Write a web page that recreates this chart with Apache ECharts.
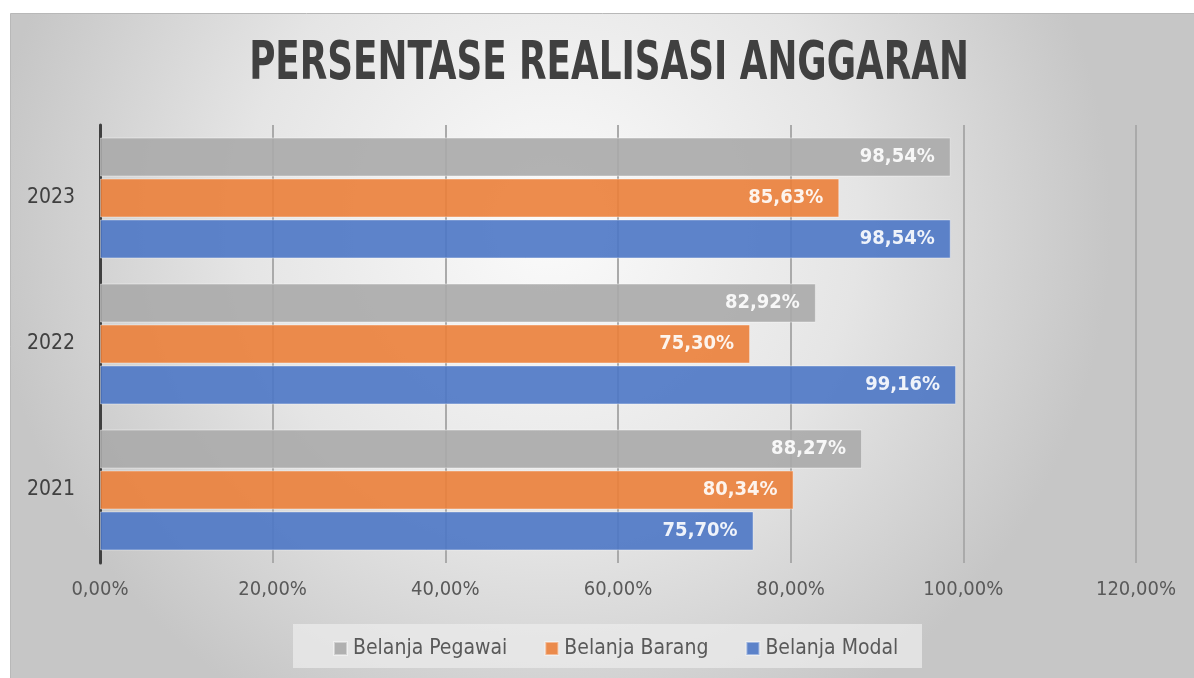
<!DOCTYPE html>
<html>
<head>
<meta charset="utf-8">
<script src="https://cdn.jsdelivr.net/npm/echarts@6/dist/echarts.min.js"></script>
<style>
  html, body { margin: 0; padding: 0; background: #ffffff; }
  #chart { width: 1194px; height: 678px; }
</style>
</head>
<body>
<div id="chart"></div>
<script>
// Budget realisation per year, in percent
const years = ['2021', '2022', '2023'];
const belanjaPegawai = [88.27, 82.92, 98.54];
const belanjaBarang = [80.34, 75.30, 85.63];
const belanjaModal = [75.70, 99.16, 98.54];
const seriesNames = ['Belanja Pegawai', 'Belanja Barang', 'Belanja Modal'];
const xTicks = [0, 20, 40, 60, 80, 100, 120];

const FONT = '"DejaVu Sans Condensed", "Liberation Sans", sans-serif';
const pct = v => v.toFixed(2).replace('.', ',') + '%';

const chart = echarts.init(document.getElementById('chart'), null, { renderer: 'canvas' });

function barSeries(name, data, color) {
  return {
    name: name,
    type: 'bar',
    data: data,
    barWidth: 39,
    barGap: '5%',
    itemStyle: { color: color, opacity: 0.9, borderColor: 'rgba(255,255,255,0.45)', borderWidth: 1 },
    label: {
      show: true,
      position: 'insideRight',
      distance: 16,
      color: '#ffffff',
      fontFamily: FONT,
      fontWeight: 'bold',
      fontSize: 20,
      formatter: p => pct(p.value)
    },
    emphasis: { disabled: true }
  };
}

chart.setOption({
  animation: false,
  graphic: [
    {
      type: 'rect',
      z: -10,
      silent: true,
      shape: { x: 10.5, y: 13.5, width: 1200, height: 700 },
      style: {
        fill: new echarts.graphic.RadialGradient(0.45, 0.3, 0.8, [
          { offset: 0, color: '#fbfbfb' },
          { offset: 0.55, color: '#e5e5e5' },
          { offset: 1, color: '#c6c6c6' }
        ]),
        stroke: '#b8b8b8',
        lineWidth: 1
      }
    },
    {
      type: 'rect',
      z: -5,
      silent: true,
      shape: { x: 293, y: 624, width: 629, height: 44 },
      style: { fill: 'rgba(235,235,235,0.75)' }
    },
    {
      type: 'text',
      x: 609,
      y: 39,
      scaleX: 0.75,
      silent: true,
      style: {
        text: 'PERSENTASE REALISASI ANGGARAN',
        fontFamily: FONT,
        fontWeight: 'bold',
        fontSize: 53,
        fill: '#404040',
        textAlign: 'center',
        textVerticalAlign: 'top'
      }
    }
  ],
  grid: { left: 100, right: 58, top: 125, bottom: 115 },
  legend: {
    data: seriesNames,
    top: 633,
    left: 328,
    itemWidth: 13,
    itemHeight: 13,
    itemGap: 37,
    icon: 'rect',
    textStyle: { fontFamily: FONT, fontSize: 21, color: '#595959', padding: [0, 0, 0, 1] }
  },
  xAxis: {
    type: 'value',
    min: xTicks[0],
    max: xTicks[xTicks.length - 1],
    interval: xTicks[1] - xTicks[0],
    axisLine: { show: false },
    axisTick: { show: false },
    axisLabel: {
      margin: 17,
      fontFamily: FONT,
      fontSize: 20,
      color: '#595959',
      formatter: v => pct(v)
    },
    splitLine: { show: true, lineStyle: { color: '#aaaaaa', width: 2 } }
  },
  yAxis: {
    type: 'category',
    data: years,
    axisLine: { show: true, lineStyle: { color: '#404040', width: 3 } },
    axisTick: { show: false },
    axisLabel: { margin: 25, fontFamily: FONT, fontSize: 21, color: '#404040' }
  },
  series: [
    barSeries(seriesNames[0], belanjaPegawai, '#aaaaaa'),
    barSeries(seriesNames[1], belanjaBarang, '#eb7f3a'),
    barSeries(seriesNames[2], belanjaModal, '#4c77c5')
  ]
});
</script>
</body>
</html>
